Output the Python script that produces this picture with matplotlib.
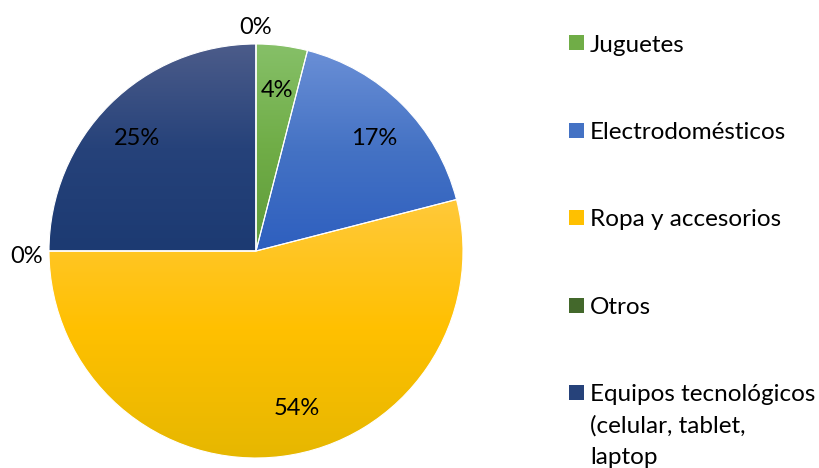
import numpy as np
import matplotlib.pyplot as plt
import matplotlib.transforms as mtransforms
from matplotlib.colors import LinearSegmentedColormap
from matplotlib.patches import Rectangle

categorias = ['Juguetes', 'Electrodomésticos', 'Ropa y accesorios', 'Otros',
              'Equipos tecnológicos\n(celular, tablet,\nlaptop', '']
valores = [4, 17, 54, 0, 25, 0]
# colores de cada porción: (arriba, centro, abajo)
colores = [('#86c068', '#70ad47', '#5f9b3a'),
           ('#6a8fd6', '#4472c4', '#2e5fbf'),
           ('#ffc93a', '#ffc000', '#e6b700'),
           ('#5b7f4a', '#43682b', '#385a22'),
           ('#4c5c8a', '#26427a', '#1c3a72'),
           ('#999999', '#888888', '#777777')]

plt.rcParams['font.family'] = ['Lato', 'DejaVu Sans']

W, H, dpi = 820, 468, 100
fig = plt.figure(figsize=(W / dpi, H / dpi), dpi=dpi)

# pie centre (256, 251) px, radius 207 px
cx, cy, R = 256, 251, 207
lim = 1.25
ax = fig.add_axes([(cx - lim * R) / W, (H - cy - lim * R) / H,
                   2 * lim * R / W, 2 * lim * R / H])
ax.set_xlim(-lim, lim)
ax.set_ylim(-lim, lim)
ax.set_aspect('equal')
ax.axis('off')

wedges, textos, pcts = ax.pie(valores, startangle=90, counterclock=False,
                              autopct='%1.0f%%', pctdistance=0.81,
                              labeldistance=None,
                              wedgeprops=dict(facecolor='none', edgecolor='white', linewidth=0.8),
                              textprops=dict(fontsize=17, color='black'))

for w, val, c in zip(wedges, valores, colores):
    if val == 0:
        continue
    v = w.get_path().vertices
    x0, x1 = v[:, 0].min(), v[:, 0].max()
    y0, y1 = v[:, 1].min(), v[:, 1].max()
    cmap = LinearSegmentedColormap.from_list('g', [c[2], c[1], c[0]])
    grad = np.linspace(0, 1, 256).reshape(-1, 1)
    im = ax.imshow(grad, extent=[x0, x1, y0, y1], origin='lower', cmap=cmap,
                   aspect='auto', zorder=0.5, interpolation='bilinear')
    im.set_clip_path(w)

# zero-value labels sit outside the pie, 54% is nudged like Excel does
shift = mtransforms.ScaledTranslation(0, -6 / dpi, fig.dpi_scale_trans)
for w, val, t in zip(wedges, valores, pcts):
    ang = np.deg2rad((w.theta1 + w.theta2) / 2)
    if val == 0:
        t.set_position((1.11 * np.cos(ang), 1.11 * np.sin(ang)))
    elif val == 54:
        ang += np.deg2rad(8)
        t.set_position((0.76 * np.cos(ang), 0.76 * np.sin(ang)))
    t.set_transform(ax.transData + shift)

# legend, drawn by hand to keep the wide spacing
ley_y = [42.5, 130, 217.5, 305, 392]
for lab, c, y in zip(categorias[:5], colores[:5], ley_y):
    fig.patches.append(Rectangle((569 / W, 1 - (y + 7.5) / H), 15 / W, 15 / H,
                                 transform=fig.transFigure, facecolor=c[1],
                                 edgecolor='none'))
    fig.text(590 / W, 1 - (y - 8) / H, lab, fontsize=17.5, va='top', ha='left',
             linespacing=1.58)

fig.savefig('out.png', dpi=dpi)
